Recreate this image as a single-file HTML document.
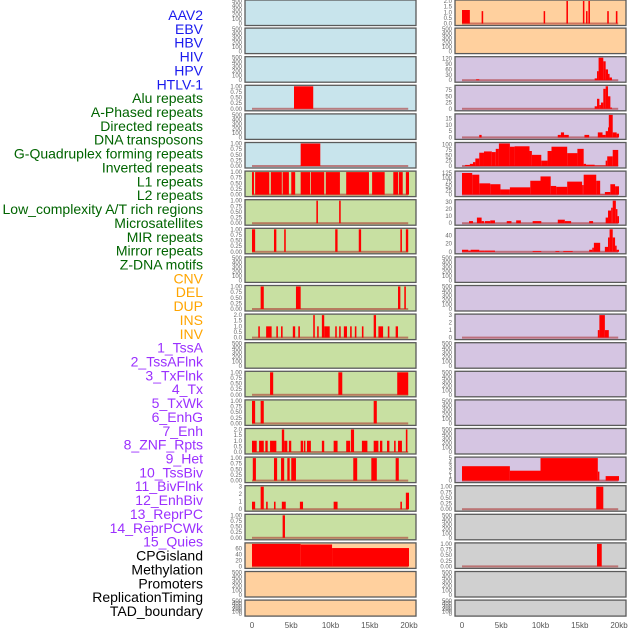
<!DOCTYPE html>
<html><head><meta charset="utf-8"><style>
html,body{margin:0;padding:0;background:#fff;}
svg{display:block;font-family:"Liberation Sans","DejaVu Sans",sans-serif;}
</style></head><body>
<svg id="chart" width="630" height="630" viewBox="0 0 630 630">
<g id="labels"></g>
<g id="panels"></g>
<g id="xaxes"></g>
</svg>
<script>
const labelNames = ["AAV2","EBV","HBV","HIV","HPV","HTLV-1","Alu repeats","A-Phased repeats","Directed repeats","DNA transposons","G-Quadruplex forming repeats","Inverted repeats","L1 repeats","L2 repeats","Low_complexity A/T rich regions","Microsatellites","MIR repeats","Mirror repeats","Z-DNA motifs","CNV","DEL","DUP","INS","INV","1_TssA","2_TssAFlnk","3_TxFlnk","4_Tx","5_TxWk","6_EnhG","7_Enh","8_ZNF_Rpts","9_Het","10_TssBiv","11_BivFlnk","12_EnhBiv","13_ReprPC","14_ReprPCWk","15_Quies","CPGisland","Methylation","Promoters","ReplicationTiming","TAD_boundary"];
const labelGroups = [6,13,5,15,5];
const groupColors = ["#1a1aee","#006400","#ffa500","#9b30ff","#000000"];
const xTickValues = [0,5,10,15,20];
const xTickLabels = ["0","5kb","10kb","15kb","20kb"];
const EMPTY = null;
// each track: [yMax, ticks, segments[[startKb,endKb,value]...]] ; null = empty track
const leftTracks = [
 EMPTY, EMPTY, EMPTY,
 [1,[0,0.25,0.5,0.75,1],[[5.35,7.8,1]]],
 EMPTY,
 [1,[0,0.25,0.5,0.75,1],[[6.2,8.7,1]]],
 [1,[0,0.25,0.5,0.75,1],[[0,0.25,1],[0.4,2.2,1],[2.4,3.8,1],[3.9,4.7,1],[5.0,5.5,1],[6.2,7.4,1],[7.5,9.2,1],[9.4,11.2,1],[12.0,14.9,1],[15.3,16.9,1],[18.0,18.6,1],[18.7,19.2,1],[19.6,20.0,1]]],
 [1,[0,0.25,0.5,0.75,1],[[8.2,8.4,1],[11.1,11.3,1]]],
 [1,[0,0.25,0.5,0.75,1],[[0,0.4,1],[2.8,3.1,1],[4.1,4.3,1],[10.6,10.9,1],[13.6,13.9,1],[18.9,19.1,1],[19.6,19.9,1]]],
 EMPTY,
 [1,[0,0.25,0.5,0.75,1],[[1.1,1.5,1],[5.6,6.2,1],[18.6,18.9,1],[19.4,19.6,1]]],
 [2,[0,0.5,1,1.5,2],[[0.8,1.0,1],[1.8,2.5,1],[3.1,3.3,1],[3.7,3.9,1],[5.2,5.5,1],[5.9,6.1,1],[7.8,8.0,2],[8.3,8.5,1],[8.9,9.2,2],[9.2,9.9,1],[10.6,10.8,1],[11.1,11.3,1],[11.7,12.1,1],[12.5,12.7,1],[13.1,13.3,1],[14.0,14.2,1],[15.5,15.8,2],[16.1,16.7,1],[17.3,17.5,1],[18.3,18.6,1]]],
 EMPTY,
 [1,[0,0.25,0.5,0.75,1],[[2.3,2.7,1],[11.0,11.5,1],[18.5,19.9,1]]],
 [1,[0,0.25,0.5,0.75,1],[[0,0.4,1],[1.1,1.5,1],[15.5,15.9,1]]],
 [2,[0,0.5,1,1.5,2],[[0,0.6,1],[0.9,1.5,1],[1.7,2.0,1],[2.3,3.1,1],[3.8,4.1,2],[4.1,4.5,1],[4.7,5.0,1],[6.2,6.5,1],[6.6,6.8,1],[7.0,7.5,1],[8.9,9.2,1],[10.4,10.9,1],[12.0,12.5,1],[12.6,13.0,2],[14.0,14.7,1],[15.5,16.1,1],[16.3,16.6,1],[17.2,17.5,1],[18.1,18.3,1],[18.6,19.1,1],[19.6,19.8,2]]],
 [1,[0,0.25,0.5,0.75,1],[[0.1,0.5,1],[2.8,3.2,1],[3.7,4.1,1],[4.5,4.8,1],[5.0,5.6,1],[12.9,13.4,1],[15.2,15.9,1],[18.3,18.7,1]]],
 [3,[0,1,2,3],[[0,0.4,1],[1.1,1.5,3],[1.8,2.0,1],[2.8,3.0,1],[3.8,4.3,1],[6.1,6.5,1],[10.4,10.9,1],[18.9,19.1,1],[19.6,20.0,2.2]]],
 [1,[0,0.25,0.5,0.75,1],[[3.9,4.2,1]]],
 [76,[0,20,40,60],[[0,6.2,76],[6.2,10.2,74],[10.2,20.0,62]]],
 EMPTY, EMPTY
];
const rightTracks = [
 [2,[0,0.5,1,1.5,2],[[0,1.0,1.2],[2.5,2.7,1.1],[10.4,10.5,1.1],[13.3,13.5,2],[15.4,15.5,2],[15.8,15.9,1.1],[16.1,16.3,2],[18.5,18.7,1.1],[19.6,19.8,1.1]]],
 EMPTY,
 [125,[0,30,60,90,120],[[1.8,2.2,5],[16.9,17.2,10],[17.2,17.4,50],[17.4,18.0,125],[18.0,18.3,105],[18.3,18.6,60],[18.6,18.8,35],[18.8,19.1,15]]],
 [90,[0,25,50,75],[[16.9,17.2,10],[17.2,17.5,40],[17.5,17.7,15],[17.7,18.0,25],[18.0,18.3,80],[18.3,18.6,90],[18.6,18.9,50],[18.9,19.1,5]]],
 [18,[0,5,10,15],[[2.2,2.5,2],[12.2,12.6,2],[12.6,13.0,4],[13.0,13.6,2],[15.6,16.2,2],[17.3,17.9,4],[17.9,18.3,2],[18.3,18.6,5],[18.6,18.7,8],[18.7,19.2,18],[19.2,19.7,4],[19.7,20.0,3]]],
 [105,[0,25,50,75,100],[[0.4,1.0,5],[1.0,1.4,10],[1.4,1.7,18],[1.7,2.2,35],[2.2,2.8,62],[2.8,3.8,68],[3.8,4.3,65],[4.3,4.7,80],[4.7,6.1,105],[6.1,6.7,90],[6.7,8.6,92],[8.6,8.9,70],[8.9,10.1,52],[10.1,10.9,25],[10.9,11.4,70],[11.4,13.4,90],[13.4,14.7,60],[14.7,15.5,80],[15.5,15.8,10],[15.8,16.9,6],[16.9,18.3,2],[18.3,18.5,25],[18.5,19.2,45],[19.2,19.9,75]]],
 [130,[0,25,50,75,100,125],[[0,1.3,125],[1.3,2.2,115],[2.2,3.6,65],[3.6,4.9,60],[4.9,6.1,30],[6.1,8.7,42],[8.7,10.0,80],[10.0,11.3,105],[11.3,12.0,50],[12.0,13.4,45],[13.4,15.3,75],[15.3,15.5,55],[15.5,17.1,115],[17.1,17.6,80],[17.6,18.2,2],[18.2,18.9,15],[18.9,19.5,60],[19.5,20.0,48]]],
 [32,[0,10,20,30],[[0.9,1.4,3],[1.9,2.5,8],[2.5,2.8,3],[2.9,3.6,3],[3.6,4.2,4],[5.7,6.3,3],[6.9,7.5,4],[9.0,10.1,3],[12.2,13.1,5],[13.1,13.9,3],[16.2,16.7,3],[18.3,18.6,8],[18.6,19.0,18],[19.0,19.2,22],[19.2,19.6,32],[19.6,19.8,20],[19.8,20.0,10]]],
 [55,[0,20,40],[[0,0.8,5],[0.8,1.1,3],[1.1,2.2,5],[2.2,2.9,3],[2.9,4.2,3],[9.0,10.1,2],[11.9,12.4,2],[12.9,14.1,2],[16.2,16.6,5],[16.6,16.8,10],[16.8,17.6,22],[18.2,18.6,12],[18.6,18.8,35],[18.8,19.2,55],[19.2,19.5,35],[19.5,19.7,15],[19.7,20.0,5]]],
 EMPTY, EMPTY,
 [3,[0,1,2,3],[[17.3,17.5,1],[17.5,18.2,3],[18.2,18.7,1]]],
 EMPTY, EMPTY, EMPTY, EMPTY,
 [5,[0,1,2,3,4,5],[[0,6.1,3.2],[6.1,10.0,2.2],[10.0,17.3,5],[17.3,17.5,2],[18.3,20.0,1]]],
 [1,[0,0.25,0.5,0.75,1],[[17.1,18.0,1]]],
 EMPTY,
 [1,[0,0.25,0.5,0.75,1],[[17.2,17.8,1]]],
 EMPTY, EMPTY
];
const leftBg = ["#c8e4ec","#c8e4ec","#c8e4ec","#c8e4ec","#c8e4ec","#c8e4ec","#c8e0a2","#c8e0a2","#c8e0a2","#c8e0a2","#c8e0a2","#c8e0a2","#c8e0a2","#c8e0a2","#c8e0a2","#c8e0a2","#c8e0a2","#c8e0a2","#c8e0a2","#ffd09e","#ffd09e","#ffd09e"];
const rightBg = ["#ffd09e","#ffd09e","#d5c5e2","#d5c5e2","#d5c5e2","#d5c5e2","#d5c5e2","#d5c5e2","#d5c5e2","#d5c5e2","#d5c5e2","#d5c5e2","#d5c5e2","#d5c5e2","#d5c5e2","#d5c5e2","#d5c5e2","#d0d0d0","#d0d0d0","#d0d0d0","#d0d0d0","#d0d0d0"];

const NS = "http://www.w3.org/2000/svg";
function mk(tag, attrs, parent){ const e=document.createElementNS(NS,tag); for(const k in attrs) e.setAttribute(k,attrs[k]); parent.appendChild(e); return e; }

// labels
const gL = document.getElementById('labels');
let gi=0, cnt=0;
labelNames.forEach((n,i)=>{
  if(cnt>=labelGroups[gi]){gi++;cnt=0;}
  cnt++;
  const t = mk('text',{x:203,y:15+i*13.86+5,'text-anchor':'end','font-size':14,fill:groupColors[gi]},gL);
  t.textContent = n;
  
  
});

const gP = document.getElementById('panels');
function fmt(v,ticks){ const maxT=ticks[ticks.length-1]; if(maxT<=1.0001) return v.toFixed(2); if(maxT<=2.0001 && ticks.some(t=>t%1)) return v.toFixed(1); return String(v); }
function drawPanel(col, i, track, bg){
  const left = col===0?245:455, right = col===0?416:626, x0 = col===0?252:462;
  const top = i===0?0:28.6*i-0.5, h = i===21?16:25.5, bottom = top+h;
  const xs = kb => x0 + kb*7.85;
  const g = mk('g',{},gP);
  
  
  mk('rect',{x:left,y:top,width:right-left,height:h,fill:bg,stroke:'#5a5a5a','stroke-width':1.3},g);
  const base = bottom-2, span = h-3;
  const ticks = track? track[1] : [0,100,200,300,400,500];
  const ymax = track? track[0] : 500;
  const ys = v => base - v/ymax*span;
  ticks.forEach(tv=>{
    const t = mk('text',{x:left-3,y:ys(tv)+2,'text-anchor':'end','font-size':6,fill:'#666'},g);
    t.textContent = track? fmt(tv,ticks) : String(tv);
    
    
  });
  if(!track) return;
  mk('rect',{x:xs(0),y:base-1,width:xs(19.9)-xs(0),height:2,fill:'rgba(170,40,40,0.55)'},g);
  track[2].forEach(s=>{
    const xa=xs(s[0]), xb=xs(s[1]);
    const w=Math.max(1.5,xb-xa), y=ys(s[2]);
    const r = mk('rect',{x:xa,y:y,width:w,height:base-y,fill:'#ff0000'},g);
    
    
  });
}
leftTracks.forEach((t,i)=>drawPanel(0,i,t,leftBg[i]));
rightTracks.forEach((t,i)=>drawPanel(1,i,t,rightBg[i]));

const gX = document.getElementById('xaxes');
[252,462].forEach(x0=>{
  xTickValues.forEach((v,k)=>{
    const t = mk('text',{x:x0+v*7.85,y:628,'text-anchor':'middle','font-size':8,fill:'#555'},gX);
    t.textContent = xTickLabels[k];
    
    
  });
});
</script>
</body></html>
